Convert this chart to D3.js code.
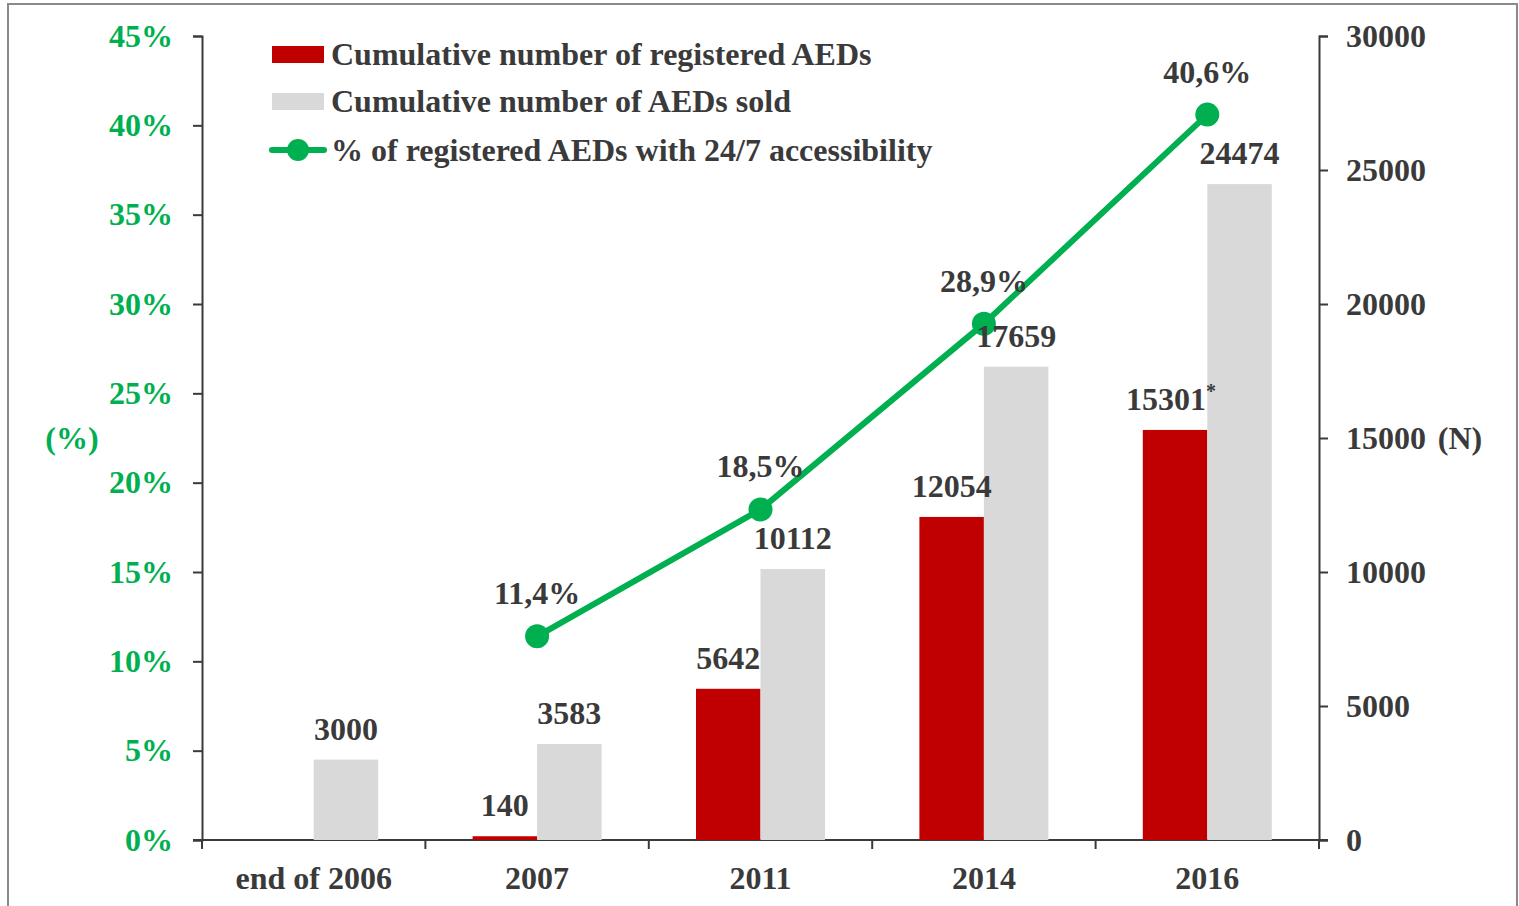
<!DOCTYPE html>
<html>
<head>
<meta charset="utf-8">
<script src="https://cdn.jsdelivr.net/npm/d3@7"></script>
<style>
  body { margin: 0; background: #fff; }
  svg text { font-family: "Liberation Serif", "Times New Roman", serif; font-weight: bold; }
</style>
</head>
<body>
<div id="chart"></div>
<script>
// chart data
var categories = ["end of 2006", "2007", "2011", "2014", "2016"];
var registered = [null, 140, 5642, 12054, 15301];
var sold = [3000, 3583, 10112, 17659, 24474];
var pct = [null, 11.4, 18.5, 28.9, 40.6];
var pctLabels = [null, "11,4%", "18,5%", "28,9%", "40,6%"];
var pctTicks = [0, 5, 10, 15, 20, 25, 30, 35, 40, 45];
var nTicks = [0, 5000, 10000, 15000, 20000, 25000, 30000];
var legendNames = ["Cumulative number of registered AEDs", "Cumulative number of AEDs sold", "% of registered AEDs with 24/7 accessibility"];

var red = "#c00000", grey = "#d9d9d9", green = "#00b050", ink = "#3a3a3a";
var fs = "32px";

// set the dimensions of the diagram
var W = 1519, H = 906;
var plot = {left: 202, right: 1319, top: 36, bottom: 840};

var svg = d3.select("#chart").append("svg")
    .attr("width", W)
    .attr("height", H);

// outer frame
svg.append("rect")
    .attr("x", 8).attr("y", 4)
    .attr("width", 1509).attr("height", 920)
    .attr("fill", "none")
    .attr("stroke", "#8a8a8a")
    .attr("stroke-width", 2);

// scales
var x = d3.scaleBand().domain(categories).range([plot.left, plot.right]);
var barW = 64.5;
var yN = d3.scaleLinear().domain([0, 30000]).range([plot.bottom, plot.top]);
var yP = d3.scaleLinear().domain([0, 45]).range([plot.bottom, plot.top]);
var cx = function(i) { return x(categories[i]) + x.bandwidth() / 2; };

// left axis (%)
var axL = svg.append("g")
    .attr("transform", "translate(" + plot.left + ",0)")
    .call(d3.axisLeft(yP).tickValues(pctTicks).tickSize(9).tickPadding(20).tickFormat(function(d) { return d + "%"; }));
axL.selectAll("text").attr("fill", green);

// right axis (N)
var axR = svg.append("g")
    .attr("transform", "translate(" + plot.right + ",0)")
    .call(d3.axisRight(yN).tickValues(nTicks).tickSize(9).tickPadding(18).tickFormat(d3.format("d")));
axR.selectAll("text").attr("fill", ink);

// bottom axis, ticks at category boundaries
var axB = svg.append("g")
    .attr("transform", "translate(0," + plot.bottom + ")");
axB.append("line")
    .attr("x1", plot.left - 9).attr("x2", plot.right + 9)
    .attr("stroke", ink).attr("stroke-width", 2);
axB.selectAll(".btick")
    .data(categories.concat(["end"]))
    .enter().append("line")
    .attr("x1", function(d, i) { return plot.left + i * x.bandwidth(); })
    .attr("x2", function(d, i) { return plot.left + i * x.bandwidth(); })
    .attr("y1", 0).attr("y2", 9)
    .attr("stroke", ink).attr("stroke-width", 2);
axB.selectAll(".blabel")
    .data(categories)
    .enter().append("text")
    .attr("x", function(d, i) { return cx(i); })
    .attr("y", 49)
    .attr("text-anchor", "middle")
    .attr("fill", ink)
    .style("font-size", fs)
    .text(function(d) { return d; });

[axL, axR].forEach(function(a) {
  a.select(".domain").attr("stroke", ink).attr("stroke-width", 2);
  a.selectAll(".tick line").attr("stroke", ink).attr("stroke-width", 2);
  a.selectAll("text").style("font-family", "'Liberation Serif', serif").style("font-weight", "bold").style("font-size", fs);
});

// axis unit labels
svg.append("text").attr("x", 72).attr("y", 449).attr("text-anchor", "middle")
    .attr("fill", green).style("font-size", fs).text("(%)");
svg.append("text").attr("x", 1460).attr("y", 449).attr("text-anchor", "middle")
    .attr("fill", ink).style("font-size", fs).text("(N)");

// bars
var bars = svg.append("g");
registered.forEach(function(v, i) {
  if (v == null) return;
  bars.append("rect")
      .attr("x", cx(i) - barW).attr("width", barW)
      .attr("y", yN(v)).attr("height", plot.bottom - yN(v))
      .attr("fill", red);
});
sold.forEach(function(v, i) {
  bars.append("rect")
      .attr("x", cx(i)).attr("width", barW)
      .attr("y", yN(v)).attr("height", plot.bottom - yN(v))
      .attr("fill", grey);
});

// line for the percentage
var pts = pct.map(function(v, i) { return {i: i, v: v}; }).filter(function(d) { return d.v != null; });
svg.append("path")
    .datum(pts)
    .attr("fill", "none")
    .attr("stroke", green)
    .attr("stroke-width", 6)
    .attr("d", d3.line().x(function(d) { return cx(d.i); }).y(function(d) { return yP(d.v); }));
svg.selectAll(".dot")
    .data(pts)
    .enter().append("circle")
    .attr("cx", function(d) { return cx(d.i); })
    .attr("cy", function(d) { return yP(d.v); })
    .attr("r", 12)
    .attr("fill", green);

// data labels
var labels = svg.append("g").attr("fill", ink).style("font-size", fs).attr("text-anchor", "middle");
registered.forEach(function(v, i) {
  if (v == null) return;
  var t = labels.append("text")
      .attr("x", cx(i) - barW / 2 - (i == 4 ? 4 : 0))
      .attr("y", yN(v) - 20)
      .text(v);
  // the 2016 value carries a footnote mark
  if (i == 4) t.append("tspan").attr("dy", -12).style("font-size", "20px").text("*");
});
sold.forEach(function(v, i) {
  labels.append("text")
      .attr("x", cx(i) + barW / 2)
      .attr("y", yN(v) - 20)
      .text(v);
});
pts.forEach(function(d) {
  labels.append("text")
      .attr("x", cx(d.i))
      .attr("y", yP(d.v) - 32)
      .text(pctLabels[d.i]);
});

// legend
var leg = svg.append("g").attr("transform", "translate(272,0)");
leg.append("rect").attr("x", 0).attr("y", 46).attr("width", 52).attr("height", 17).attr("fill", red);
leg.append("rect").attr("x", 0).attr("y", 93).attr("width", 52).attr("height", 17).attr("fill", grey);
leg.append("line").attr("x1", 0).attr("x2", 52).attr("y1", 150).attr("y2", 150)
    .attr("stroke", green).attr("stroke-width", 6).attr("stroke-linecap", "round");
leg.append("circle").attr("cx", 26).attr("cy", 150).attr("r", 11).attr("fill", green);
[54, 101, 150].forEach(function(yy, i) {
  leg.append("text").attr("x", 59).attr("y", yy + 11)
      .attr("fill", ink).style("font-size", fs)
      .text(legendNames[i]);
});
</script>
</body>
</html>
